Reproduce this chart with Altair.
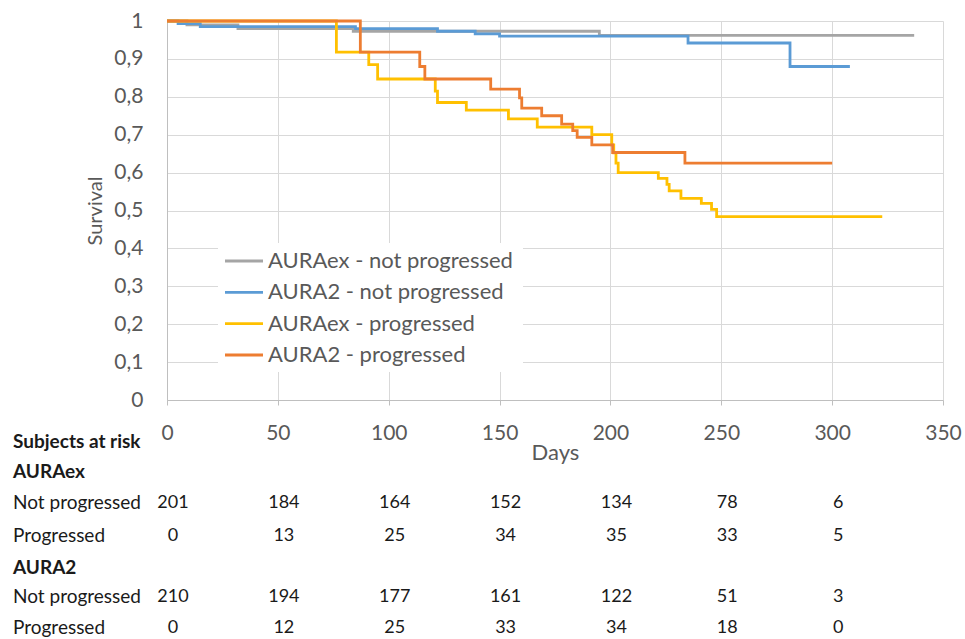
import altair as alt
import pandas as pd

FONT = "Lato"

# ---- series (step curves) ----
series_names = ["AURAex - not progressed", "AURA2 - not progressed",
                "AURAex - progressed", "AURA2 - progressed"]
series_colors = ["#a5a5a5", "#5b9bd5", "#ffc000", "#ed7d31"]

gray_days = [0, 9, 32, 84, 195, 337]
gray_surv = [1.0, 0.99, 0.98, 0.973, 0.962, 0.962]

blue_days = [0, 5, 15, 85, 122, 139, 150, 235, 281, 308]
blue_surv = [1.0, 0.993, 0.985, 0.98, 0.973, 0.966, 0.96, 0.942, 0.88, 0.88]

yellow_days = [0, 76.4, 91, 95, 121, 122, 135, 154, 167, 191.6, 200.6, 201.5,
               202.5, 203.5, 221.6, 225.5, 226.5, 231.8, 241, 245.6, 247.9, 322.6]
yellow_surv = [1.0, 0.918, 0.885, 0.847, 0.815, 0.785, 0.765, 0.742, 0.72, 0.70,
               0.673, 0.652, 0.625, 0.60, 0.585, 0.569, 0.552, 0.532, 0.519,
               0.503, 0.484, 0.484]

orange_days = [0, 87.2, 114, 116.3, 146, 159, 160, 169, 178, 183, 185, 191.6,
               201, 233.6, 300]
orange_surv = [1.0, 0.918, 0.88, 0.847, 0.82, 0.797, 0.77, 0.75, 0.728, 0.711,
               0.693, 0.673, 0.653, 0.625, 0.625]

all_days = [gray_days, blue_days, yellow_days, orange_days]
all_surv = [gray_surv, blue_surv, yellow_surv, orange_surv]

# ---- subjects at risk table ----
risk_days = [0, 50, 100, 150, 200, 250, 300]
auraex_np = [201, 184, 164, 152, 134, 78, 6]
auraex_p = [0, 13, 25, 34, 35, 33, 5]
aura2_np = [210, 194, 177, 161, 122, 51, 3]
aura2_p = [0, 12, 25, 33, 34, 18, 0]

row_labels = ["Subjects at risk", "AURAex", "Not progressed", "Progressed",
              "AURA2", "Not progressed", "Progressed"]
row_bold = [True, True, False, False, True, False, False]

x_ticks = [0, 50, 100, 150, 200, 250, 300, 350]
y_ticks = [0, 0.1, 0.2, 0.3, 0.4, 0.5, 0.6, 0.7, 0.8, 0.9, 1.0]

# ---- layout constants (pixels, relative to plot origin) ----
W, H = 776, 379
row_y = [421, 451, 482, 515, 547, 576, 607]
label_x = -154
legend_row_y = [240, 271.3, 302.6, 334]

x_axis = alt.Axis(values=x_ticks, title="Days", grid=True, gridColor="#d9d9d9",
                  domainColor="#bfbfbf", ticks=True, tickSize=5, tickColor="#bfbfbf",
                  labelFont=FONT, labelFontSize=21, labelColor="#595959",
                  labelBaseline="middle", labelPadding=28, labelFlush=False,
                  titleFont=FONT, titleFontSize=22, titleFontWeight="normal",
                  titleColor="#595959", titleX=W / 2, titleY=52,
                  titleBaseline="middle", titleAlign="center")
y_axis = alt.Axis(values=y_ticks, title="Survival", grid=True, gridColor="#d9d9d9",
                  domainColor="#bfbfbf", ticks=False,
                  labelExpr="replace(format(datum.value, '.1~f'), '.', ',')",
                  labelFont=FONT, labelFontSize=21, labelColor="#595959",
                  labelPadding=24, labelFlush=False,
                  titleFont=FONT, titleFontSize=20, titleFontWeight="normal",
                  titleColor="#595959", titleX=-72, titleY=H / 2, titleAngle=270,
                  titleBaseline="middle", titleAlign="center")

x_enc = alt.X("day:Q", scale=alt.Scale(domain=[0, 350], nice=False, zero=False), axis=x_axis)
y_enc = alt.Y("surv:Q", scale=alt.Scale(domain=[0, 1], nice=False), axis=y_axis)

layers = []
for name, color, d, s in zip(series_names, series_colors, all_days, all_surv):
    df = pd.DataFrame({"day": d, "surv": s, "series": name})
    layers.append(
        alt.Chart(df).mark_line(interpolate="step-after", strokeWidth=2.8, color=color)
        .encode(x=x_enc, y=y_enc)
    )

# legend box (white background over gridlines)
layers.append(
    alt.Chart(pd.DataFrame({"a": [0]})).mark_rect(color="white")
    .encode(x=alt.value(51), x2=alt.value(356), y=alt.value(222), y2=alt.value(351))
)
for i, (name, color) in enumerate(zip(series_names, series_colors)):
    ldf = pd.DataFrame({"name": [name]})
    layers.append(
        alt.Chart(ldf).mark_rule(color=color, strokeWidth=2.8)
        .encode(x=alt.value(58), x2=alt.value(96), y=alt.value(legend_row_y[i]))
    )
    layers.append(
        alt.Chart(ldf).mark_text(font=FONT, fontSize=22, color="#595959",
                                 align="left", baseline="middle")
        .encode(x=alt.value(101), y=alt.value(legend_row_y[i]), text="name:N")
    )

# table row labels
for i, (lab, bold) in enumerate(zip(row_labels, row_bold)):
    tdf = pd.DataFrame({"label": [lab]})
    layers.append(
        alt.Chart(tdf).mark_text(font=FONT, fontSize=19, color="#1a1a1a",
                                 fontWeight="bold" if bold else "normal",
                                 align="left", baseline="middle")
        .encode(x=alt.value(label_x), y=alt.value(row_y[i]), text="label:N")
    )

# table numbers
for counts, ry in zip([auraex_np, auraex_p, aura2_np, aura2_p],
                      [row_y[2], row_y[3], row_y[5], row_y[6]]):
    ndf = pd.DataFrame({"day": risk_days, "n": counts})
    layers.append(
        alt.Chart(ndf).mark_text(font=FONT, fontSize=18, color="#1a1a1a",
                                 align="center", baseline="middle", dx=6)
        .encode(x=x_enc, y=alt.value(ry), text="n:Q")
    )

chart = (
    alt.layer(*layers)
    .properties(width=W, height=H, autosize=alt.AutoSizeParams(type="none"),
                padding={"left": 167, "top": 21, "right": 22, "bottom": 239},
                background="white")
    .configure_view(stroke=None)
)

chart.save("out.html", embed_options={"renderer": "svg", "actions": False})
